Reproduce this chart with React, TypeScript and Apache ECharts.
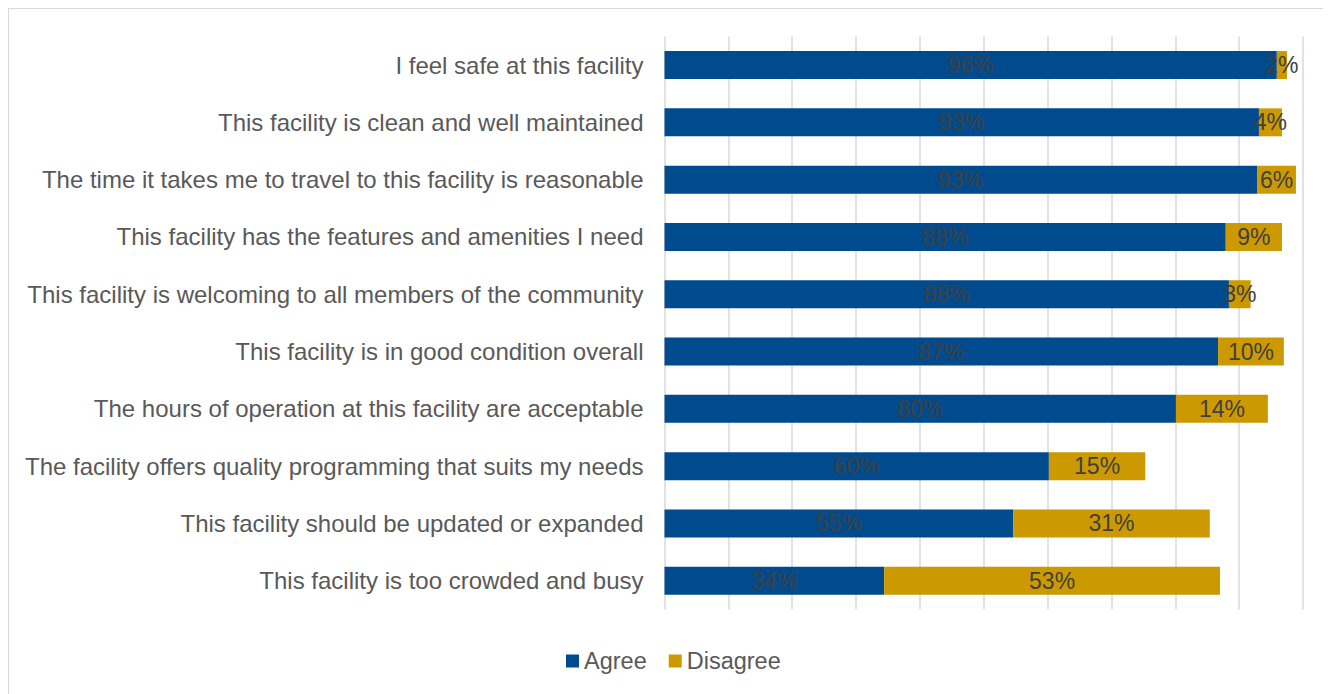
import React, { useEffect, useRef } from "react";
import * as echarts from "echarts";

const categories = [
  "I feel safe at this facility",
  "This facility is clean and well maintained",
  "The time it takes me to travel to this facility is reasonable",
  "This facility has the features and amenities I need",
  "This facility is welcoming to all members of the community",
  "This facility is in good condition overall",
  "The hours of operation at this facility are acceptable",
  "The facility offers quality programming that suits my needs",
  "This facility should be updated or expanded",
  "This facility is too crowded and busy",
];
const agree = [95.9, 93.1, 92.8, 87.9, 88.4, 86.7, 80.1, 60.2, 54.6, 34.4];
const disagree = [1.6, 3.6, 6.1, 8.8, 3.4, 10.3, 14.4, 15.1, 30.8, 52.6];

const FONT = "'Liberation Sans', Arial, sans-serif";

export default function App() {
  const ref = useRef<HTMLDivElement>(null);
  useEffect(() => {
    if (!ref.current) return;
    const chart = echarts.init(ref.current, null, { renderer: "svg" });
    const label = {
      show: true,
      position: "inside" as const,
      color: "#404040",
      fontSize: 23,
      fontFamily: FONT,
      formatter: (p: any) => Math.round(p.value) + "%",
    };
    chart.setOption({
      animation: false,
      textStyle: { fontFamily: FONT },
      grid: { left: 655.5, right: 28, top: 27.4, bottom: 84.6, containLabel: false },
      legend: {
        bottom: 16,
        left: 552,
        itemWidth: 13,
        itemHeight: 13,
        itemGap: 22,
        icon: "rect",
        textStyle: { color: "#595959", fontSize: 23.5, fontFamily: FONT },
        data: ["Agree", "Disagree"],
      },
      xAxis: {
        type: "value",
        min: 0,
        max: 100,
        interval: 10,
        axisLabel: { show: false },
        axisLine: { show: false },
        axisTick: { show: false },
        splitLine: { show: true, lineStyle: { color: "#d9d9d9", width: 1.5 } },
      },
      yAxis: {
        type: "category",
        inverse: true,
        data: categories,
        axisLine: { show: false },
        axisTick: { show: false },
        axisLabel: { color: "#595959", fontSize: 24, fontFamily: FONT, margin: 21 },
      },
      series: [
        {
          name: "Agree",
          type: "bar",
          stack: "total",
          data: agree,
          barWidth: 28,
          itemStyle: { color: "#004b8d" },
          label,
        },
        {
          name: "Disagree",
          type: "bar",
          stack: "total",
          data: disagree,
          barWidth: 28,
          itemStyle: { color: "#cc9a00" },
          label,
        },
      ],
    });
    return () => chart.dispose();
  }, []);
  return (
    <div
      ref={ref}
      style={{
        width: 1322,
        height: 685,
        borderTop: "1px solid #d9d9d9",
        borderLeft: "1px solid #d9d9d9",
        background: "#fff",
      }}
    />
  );
}
